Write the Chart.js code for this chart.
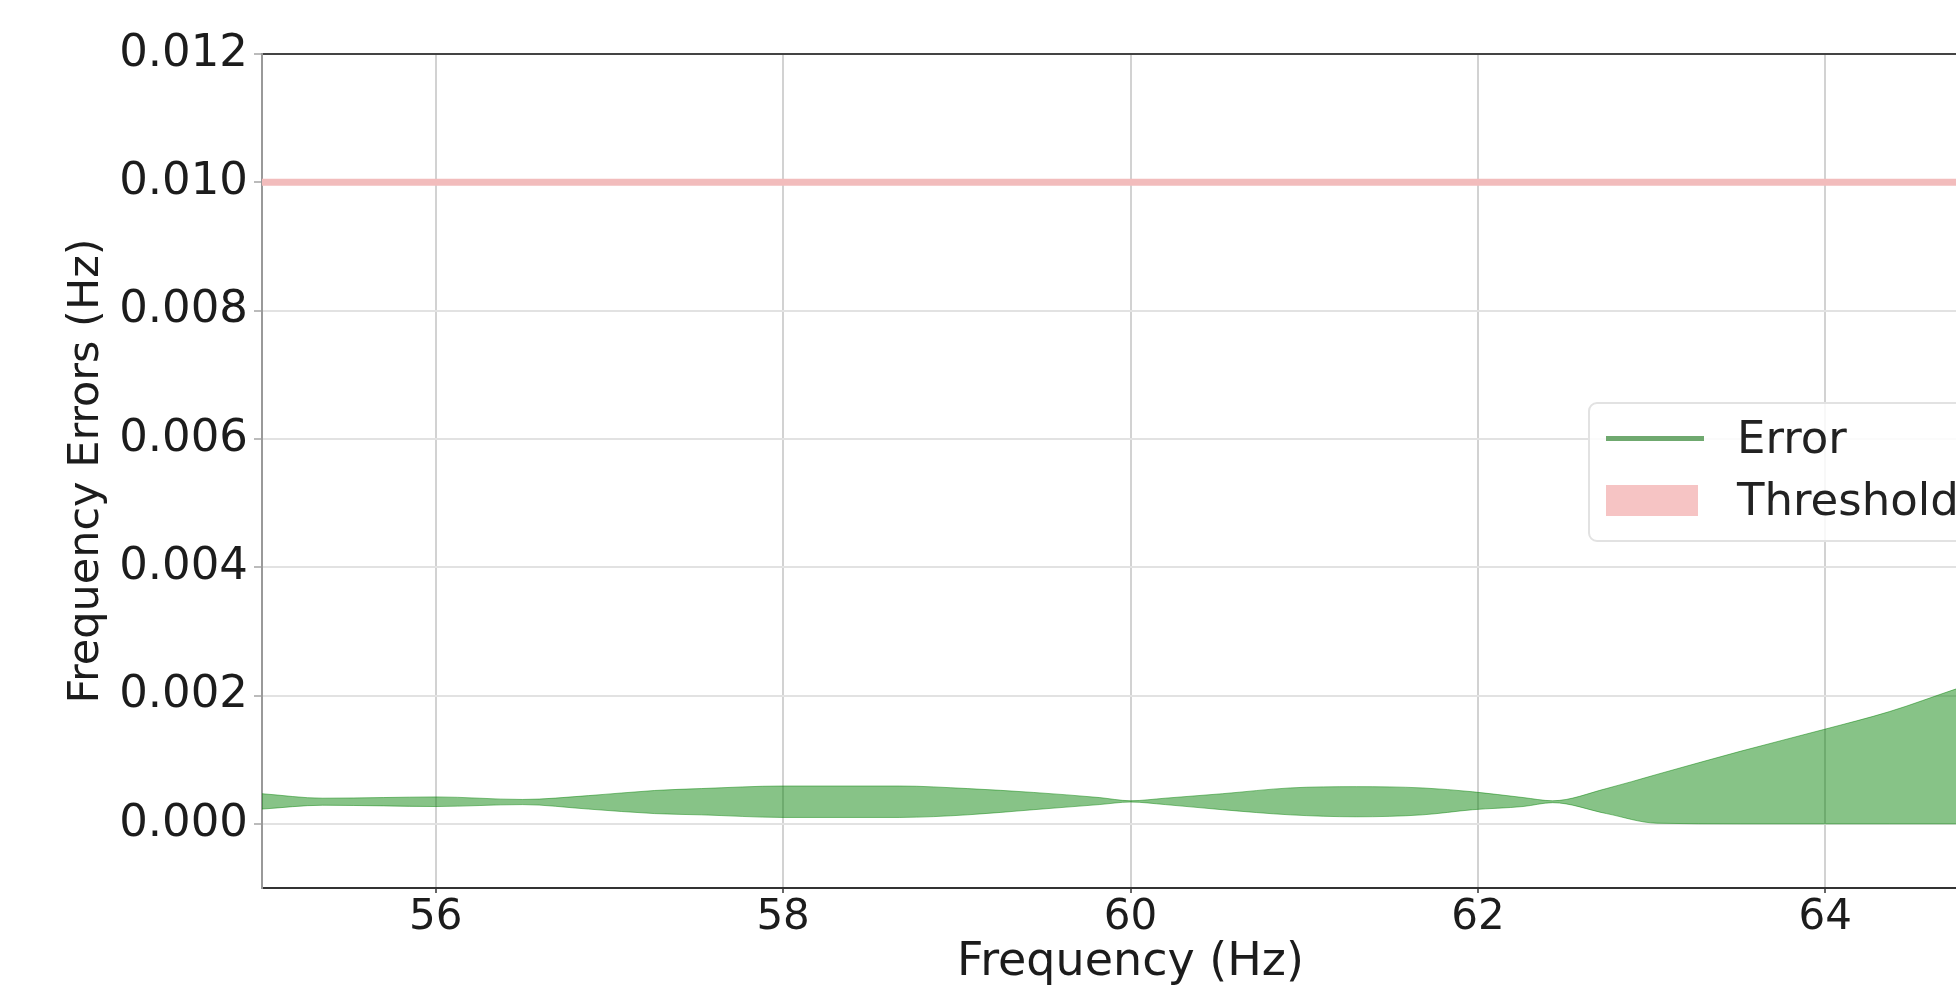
<!DOCTYPE html>
<html>
<head>
<meta charset="utf-8">
<script src="https://cdn.jsdelivr.net/npm/chart.js@4.4.1/dist/chart.umd.min.js"></script>
<style>
    html, body { margin: 0; padding: 0; background: #fff; overflow: hidden; }
    #wrap { position: relative; width: 2040px; height: 988px; }
    #legend {
        position: absolute; left: 1588px; top: 402px; width: 400px; height: 136px;
        border: 2px solid #e2e2e2; border-radius: 9px; background: rgba(255,255,255,0.85);
        font-family: "DejaVu Sans", sans-serif; font-size: 45px; color: #222;
    }
    #legend .row { position: absolute; left: 0; height: 50px; }
    #legend .key { position: absolute; left: 16px; }
    #legend .txt { position: absolute; left: 147px; white-space: nowrap; line-height: 50px; }
</style>
</head>
<body>
<div id="wrap">
    <canvas id="chart" width="2040" height="988"></canvas>
    <div id="legend">
        <div class="row" style="top:9px">
            <div class="key" style="top:23px;width:98px;height:5px;background:#6fa96f"></div>
            <div class="txt" style="top:0">Error</div>
        </div>
        <div class="row" style="top:71px">
            <div class="key" style="top:10px;width:92px;height:31px;background:#f6c4c4"></div>
            <div class="txt" style="top:0">Threshold</div>
        </div>
    </div>
</div>
<script>
// frequency (Hz) and the envelope of the error band (Hz)
const freqs = [55.0, 55.35, 55.7, 56.0, 56.5, 56.88, 57.26, 57.53, 58.0, 58.67, 59.06, 59.44, 59.82, 60.0,
    60.2, 60.53, 60.92, 61.3, 61.68, 61.97, 62.26, 62.43, 62.74, 63.03, 63.51, 63.99, 64.37, 64.75, 65.0];
const errUpper = [0.00047, 0.00040, 0.00041, 0.00042, 0.00038, 0.00044, 0.00052, 0.00055, 0.00059, 0.00059,
    0.00055, 0.00049, 0.00041, 0.00036, 0.00040, 0.00047, 0.00056, 0.00058, 0.00056, 0.00050, 0.00041,
    0.00036, 0.00055, 0.00077, 0.00113, 0.00147, 0.00175, 0.00210, 0.00232];
const errLower = [0.00023, 0.00029, 0.00028, 0.00027, 0.00030, 0.00023, 0.00016, 0.00014, 0.00010, 0.00010,
    0.00014, 0.00022, 0.00030, 0.00034, 0.00030, 0.00022, 0.00014, 0.00011, 0.00014, 0.00022, 0.00027,
    0.00033, 0.00016, 0.00001, 0.0, 0.0, 0.0, 0.0, 0.0];
const threshold = 0.010;

const xTicks = [56, 58, 60, 62, 64];
const yTicks = [0.000, 0.002, 0.004, 0.006, 0.008, 0.010, 0.012];

const green = 'rgba(0, 128, 0, 0.47)';
const family = '"DejaVu Sans", sans-serif';

const upperPts = freqs.map((f, i) => ({ x: f, y: errUpper[i] }));
const lowerPts = freqs.map((f, i) => ({ x: f, y: errLower[i] }));

new Chart(document.getElementById('chart'), {
    type: 'line',
    data: {
        datasets: [
            {
                label: 'Error',
                data: upperPts,
                borderColor: green,
                backgroundColor: green,
                borderWidth: 1,
                pointRadius: 0,
                cubicInterpolationMode: 'monotone',
                fill: '+1'
            },
            {
                label: 'Error (lower)',
                data: lowerPts,
                borderColor: green,
                borderWidth: 1,
                pointRadius: 0,
                cubicInterpolationMode: 'monotone',
                fill: false
            },
            {
                label: 'Threshold',
                data: [{ x: 55, y: threshold }, { x: 65, y: threshold }],
                borderColor: '#f2bcbc',
                borderWidth: 7,
                pointRadius: 0,
                fill: false
            }
        ]
    },
    options: {
        responsive: false,
        animation: false,
        devicePixelRatio: 1,
        layout: { padding: { top: 54, right: 41, left: 0, bottom: 0 } },
        plugins: {
            legend: { display: false },
            tooltip: { enabled: false }
        },
        scales: {
            x: {
                type: 'linear',
                min: 55,
                max: 65,
                afterBuildTicks: (scale) => { scale.ticks = xTicks.map(v => ({ value: v })); },
                afterFit: (scale) => { scale.height = 100; },
                ticks: { font: { family: family, size: 42 }, color: '#1c1c1c', padding: 0, maxRotation: 0 },
                grid: { color: '#d2d2d2', lineWidth: 2, tickLength: 5, tickColor: '#666' },
                border: { color: '#333', width: 2 },
                title: {
                    display: true,
                    text: 'Frequency (Hz)',
                    font: { family: family, size: 46, lineHeight: 1.1 },
                    color: '#1c1c1c',
                    padding: 0
                }
            },
            y: {
                min: -0.001,
                max: 0.012,
                afterBuildTicks: (scale) => { scale.ticks = yTicks.map(v => ({ value: v })); },
                afterFit: (scale) => { scale.width = 262; },
                ticks: {
                    font: { family: family, size: 45 },
                    color: '#1c1c1c',
                    padding: 6,
                    callback: (v) => v.toFixed(3)
                },
                grid: {
                    color: (ctx) => (ctx.tick && ctx.tick.value === 0.012 ? '#444' : '#e2e2e2'),
                    lineWidth: 2,
                    tickLength: 8,
                    tickColor: '#bbb'
                },
                border: { color: '#999', width: 2 },
                title: {
                    display: true,
                    text: 'Frequency Errors (Hz)',
                    font: { family: family, size: 43 },
                    color: '#1c1c1c',
                    padding: { top: 61, bottom: 0 }
                }
            }
        }
    }
});
</script>
</body>
</html>
